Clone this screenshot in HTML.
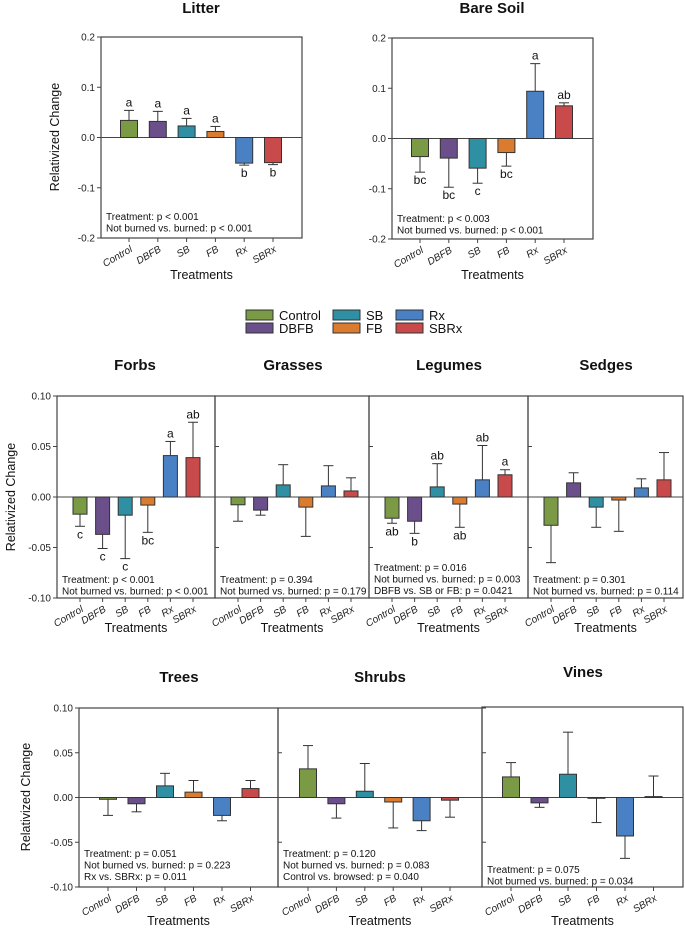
<!DOCTYPE html>
<html><head><meta charset="utf-8"><style>
html,body{margin:0;padding:0;background:#fff}
svg{display:block;font-family:"Liberation Sans",Arial,sans-serif}
</style></head><body>
<svg id="fig" width="685" height="929" viewBox="0 0 685 929" xmlns="http://www.w3.org/2000/svg"></svg>
<script>
const categories = ["Control","DBFB","SB","FB","Rx","SBRx"];
const colors = ["#7a9a45","#6a4f8a","#2f8fa3","#d97c30","#4a80c4","#c94a4a"];
const litterVals = [0.034,0.032,0.023,0.012,-0.051,-0.050];
const litterErr  = [0.054,0.052,0.038,0.022,-0.055,-0.054];
const litterLet  = ["a","a","a","a","b","b"];
const bareVals = [-0.036,-0.039,-0.059,-0.028,0.094,0.065];
const bareErr  = [-0.067,-0.097,-0.089,-0.055,0.149,0.071];
const bareLet  = ["bc","bc","c","bc","a","ab"];
const forbsVals = [-0.017,-0.037,-0.018,-0.008,0.041,0.039];
const forbsErr  = [-0.029,-0.051,-0.061,-0.035,0.055,0.074];
const forbsLet  = ["c","c","c","bc","a","ab"];
const grassVals = [-0.0077,-0.013,0.012,-0.010,0.011,0.006];
const grassErr  = [-0.024,-0.018,0.032,-0.039,0.031,0.019];
const legVals = [-0.021,-0.024,0.010,-0.007,0.017,0.022];
const legErr  = [-0.026,-0.036,0.033,-0.030,0.051,0.027];
const legLet  = ["ab","b","ab","ab","ab","a"];
const sedgeVals = [-0.028,0.014,-0.010,-0.003,0.009,0.017];
const sedgeErr  = [-0.065,0.024,-0.030,-0.034,0.018,0.044];
const treeVals = [-0.002,-0.007,0.013,0.006,-0.020,0.010];
const treeErr  = [-0.020,-0.016,0.027,0.019,-0.026,0.019];
const shrubVals = [0.032,-0.007,0.007,-0.005,-0.026,-0.003];
const shrubErr  = [0.058,-0.023,0.038,-0.034,-0.037,-0.022];
const vineVals = [0.023,-0.006,0.026,0.000,-0.043,0.001];
const vineErr  = [0.039,-0.011,0.073,-0.028,-0.068,0.024];
const topTicks = [-0.2,-0.1,0.0,0.1,0.2];
const topTickLabels = ["-0.2","-0.1","0.0","0.1","0.2"];
const lowTicks = [-0.10,-0.05,0.00,0.05,0.10];
const lowTickLabels = ["-0.10","-0.05","0.00","0.05","0.10"];

const NS="http://www.w3.org/2000/svg";
const svg=document.getElementById('fig');
function mk(tag,attrs,parent,text){const e=document.createElementNS(NS,tag);for(const k in attrs)e.setAttribute(k,attrs[k]);if(text!==undefined)e.textContent=text;(parent||svg).appendChild(e);return e;}

function panel(p){
  const g=mk('g',{});
  
  
  const y=v=>p.yb+(v-p.ymin)/(p.ymax-p.ymin)*(p.yt-p.yb);
  const x=i=>p.x0+p.first+i*p.step;
  // box
  const box=mk('rect',{x:p.x0,y:p.boxTop||p.yt,width:p.x1-p.x0,height:p.yb-(p.boxTop||p.yt),fill:'none',stroke:'#444','stroke-width':1.2},g);
  
  
  // y ticks
  p.ticks.forEach((t,i)=>{
    const yy=y(t);
    if(p.showY){
      mk('line',{x1:p.x0-4,x2:p.x0,y1:yy,y2:yy,stroke:'#444'},g);
      const tl=mk('text',{x:p.x0-6,y:yy+3.5,'text-anchor':'end','font-size':10,fill:'#222'},g,p.tickLabels[i]);
      
      
    } else {
      mk('line',{x1:p.x0,x2:p.x0+4,y1:yy,y2:yy,stroke:'#444'},g);
    }
  });
  // zero line
  mk('line',{x1:p.x0,x2:p.x1,y1:y(0),y2:y(0),stroke:'#444','stroke-width':1},g);
  // bars
  p.vals.forEach((v,i)=>{
    const cx=x(i),y0=y(0),yv=y(v),ye=y(p.errs[i]);
    mk('line',{x1:cx,x2:cx,y1:yv,y2:ye,stroke:'#333','stroke-width':1},g);
    mk('line',{x1:cx-5,x2:cx+5,y1:ye,y2:ye,stroke:'#333','stroke-width':1},g);
    const r=mk('rect',{x:cx-p.bw/2,y:Math.min(y0,yv),width:p.bw,height:Math.max(Math.abs(yv-y0),0.8),fill:colors[i],stroke:'#333','stroke-width':1},g);
    
    
    if(p.letters){
      const ly = p.errs[i]>=0 ? ye-4 : ye+12;
      const lt=mk('text',{x:cx,y:ly,'text-anchor':'middle','font-size':12,fill:'#111'},g,p.letters[i]);
      
      
    }
    mk('line',{x1:cx,x2:cx,y1:p.yb,y2:p.yb+4,stroke:'#444'},g);
    const xl=mk('text',{x:cx+4,y:p.yb+13,'text-anchor':'end','font-size':10,'font-style':'italic',fill:'#222',transform:`rotate(-30 ${cx+4} ${p.yb+13})`},g,categories[i]);
    
    
  });
  const t=mk('text',{x:p.tx,y:p.ty,'text-anchor':'middle','font-size':15,'font-weight':'bold',fill:'#111'},g,p.title);
  
  
  const xt=mk('text',{x:(p.x0+p.x1)/2,y:p.xtY,'text-anchor':'middle','font-size':12.5,fill:'#111'},g,'Treatments');
  
  
  p.notes.forEach((n,i)=>{
    const nt=mk('text',{x:p.x0+5,y:p.noteY+i*11.5,'font-size':10,fill:'#111'},g,n);
    
    
  });
}
function ylabel(xc,yc){
  const t=mk('text',{x:xc,y:yc,'text-anchor':'middle','font-size':12.5,fill:'#111',transform:`rotate(-90 ${xc} ${yc})`},svg,'Relativized Change');
  
  
}

// Top row
panel({name:'litter',x0:101,x1:302,yt:37,yb:238,ymin:-0.2,ymax:0.2,first:28,step:28.8,bw:17,vals:litterVals,errs:litterErr,letters:litterLet,ticks:topTicks,tickLabels:topTickLabels,showY:true,title:'Litter',tx:201,ty:13,xtY:279,notes:['Treatment: p < 0.001','Not burned vs. burned: p < 0.001'],noteY:220});
panel({name:'bare-soil',x0:392,x1:593,yt:38,yb:239,ymin:-0.2,ymax:0.2,first:28,step:28.8,bw:17,vals:bareVals,errs:bareErr,letters:bareLet,ticks:topTicks,tickLabels:topTickLabels,showY:true,title:'Bare Soil',tx:492,ty:13,xtY:279,notes:['Treatment: p < 0.003','Not burned vs. burned: p < 0.001'],noteY:222});
ylabel(59,137);

// Legend
const lg=mk('g',{});


const legPos=[[246,310],[246,323],[333,310],[333,323],[396,310],[396,323]];
categories.forEach((c,i)=>{
  const [lx,ly]=legPos[i];
  const e=mk('g',{},lg);
  
  
  mk('rect',{x:lx,y:ly,width:27,height:10,fill:colors[i],stroke:'#333','stroke-width':1},e);
  mk('text',{x:lx+33,y:ly+10,'font-size':13,fill:'#111'},e,c);
});

// Middle row
panel({name:'forbs',x0:57,x1:215,yt:396,yb:598,ymin:-0.1,ymax:0.1,first:23,step:22.6,bw:14,vals:forbsVals,errs:forbsErr,letters:forbsLet,ticks:lowTicks,tickLabels:lowTickLabels,showY:true,title:'Forbs',tx:135,ty:370,xtY:632,notes:['Treatment: p < 0.001','Not burned vs. burned: p < 0.001'],noteY:583});
panel({name:'grasses',x0:215,x1:369,yt:396,yb:598,ymin:-0.1,ymax:0.1,first:23,step:22.6,bw:14,vals:grassVals,errs:grassErr,letters:null,ticks:lowTicks,tickLabels:lowTickLabels,showY:false,title:'Grasses',tx:293,ty:370,xtY:632,notes:['Treatment: p = 0.394','Not burned vs. burned: p = 0.179'],noteY:583});
panel({name:'legumes',x0:369,x1:528,yt:396,yb:598,ymin:-0.1,ymax:0.1,first:23,step:22.6,bw:14,vals:legVals,errs:legErr,letters:legLet,ticks:lowTicks,tickLabels:lowTickLabels,showY:false,title:'Legumes',tx:449,ty:370,xtY:632,notes:['Treatment: p = 0.016','Not burned vs. burned: p = 0.003','DBFB vs. SB or FB: p = 0.0421'],noteY:571});
panel({name:'sedges',x0:528,x1:683,yt:396,yb:598,ymin:-0.1,ymax:0.1,first:23,step:22.6,bw:14,vals:sedgeVals,errs:sedgeErr,letters:null,ticks:lowTicks,tickLabels:lowTickLabels,showY:false,title:'Sedges',tx:606,ty:370,xtY:632,notes:['Treatment: p = 0.301','Not burned vs. burned: p = 0.114'],noteY:583});
ylabel(15,497);

// Bottom row
panel({name:'trees',x0:79,x1:278,yt:708,yb:887,ymin:-0.1,ymax:0.1,first:29,step:28.5,bw:17,vals:treeVals,errs:treeErr,letters:null,ticks:lowTicks,tickLabels:lowTickLabels,showY:true,title:'Trees',tx:179,ty:682,xtY:925,notes:['Treatment: p = 0.051','Not burned vs. burned: p = 0.223','Rx vs. SBRx: p = 0.011'],noteY:857});
panel({name:'shrubs',x0:278,x1:482,yt:708,yb:887,ymin:-0.1,ymax:0.1,first:30,step:28.4,bw:17,vals:shrubVals,errs:shrubErr,letters:null,ticks:lowTicks,tickLabels:lowTickLabels,showY:false,title:'Shrubs',tx:380,ty:682,xtY:925,notes:['Treatment: p = 0.120','Not burned vs. burned: p = 0.083','Control vs. browsed: p = 0.040'],noteY:857});
panel({name:'vines',x0:482,x1:683,yt:708,yb:887,boxTop:707,ymin:-0.1,ymax:0.1,first:29,step:28.5,bw:17,vals:vineVals,errs:vineErr,letters:null,ticks:lowTicks,tickLabels:lowTickLabels,showY:false,title:'Vines',tx:583,ty:677,xtY:925,notes:['Treatment: p = 0.075','Not burned  vs. burned: p = 0.034'],noteY:873});
ylabel(30,797);
</script>
</body></html>
